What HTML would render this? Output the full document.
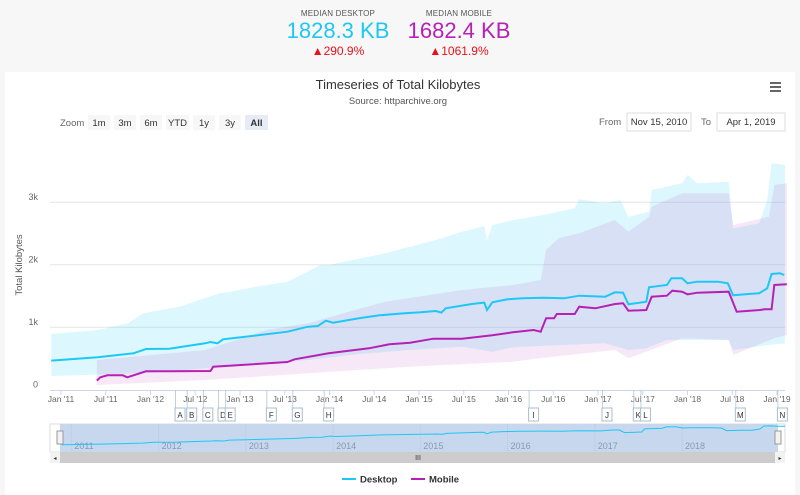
<!DOCTYPE html>
<html><head><meta charset="utf-8"><style>
body{margin:0;width:800px;height:495px;background:#f7f7f7;font-family:"Liberation Sans",sans-serif;overflow:hidden;position:relative}
.stat{position:absolute;text-align:center;width:130px}
.lbl{font-size:8px;color:#555;letter-spacing:.2px}
.val{font-size:22px;line-height:26px}
.chg{font-size:12px;color:#e8101a}
#card{position:absolute;left:5px;top:72px;width:790px;height:423px;background:#fff}
svg text{font-family:"Liberation Sans",sans-serif}
</style></head><body>
<div class="stat" style="left:273px;top:9px">
<div class="lbl">MEDIAN DESKTOP</div><div class="val" style="color:#1ec8f5">1828.3 KB</div><div class="chg">▲290.9%</div></div>
<div class="stat" style="left:394px;top:9px">
<div class="lbl">MEDIAN MOBILE</div><div class="val" style="color:#b521b5">1682.4 KB</div><div class="chg">▲1061.9%</div></div>
<div id="card"></div>
<svg id="chart" width="800" height="495" style="position:absolute;left:0;top:0">
<text x="398" y="89" font-size="13" text-anchor="middle" fill="#333">Timeseries of Total Kilobytes</text>
<text x="398" y="104" font-size="9.5" text-anchor="middle" fill="#555">Source: httparchive.org</text>
<g fill="#666"><rect x="770" y="82" width="11" height="2"/><rect x="770" y="86" width="11" height="2"/><rect x="770" y="90" width="11" height="2"/></g>
<text x="60" y="126" font-size="9.5" fill="#666">Zoom</text>
<g id="zoombtns"></g>
<text x="599" y="125" font-size="9.5" fill="#666">From</text>
<rect x="627" y="113" width="64" height="18" fill="#fff" stroke="#ddd"/>
<text x="659" y="125" font-size="9.5" fill="#333" text-anchor="middle">Nov 15, 2010</text>
<text x="701" y="125" font-size="9.5" fill="#666">To</text>
<rect x="717" y="113" width="68" height="18" fill="#fff" stroke="#ddd"/>
<text x="751" y="125" font-size="9.5" fill="#333" text-anchor="middle">Apr 1, 2019</text>
<text transform="translate(22,265) rotate(-90)" font-size="9.5" fill="#555" text-anchor="middle">Total Kilobytes</text>
<g id="plot"></g>
</svg>
<script>
const yTicks=[0,1000,2000,3000];
const yTickLabels=["0","1k","2k","3k"];
const xTickYears=[2011,2011.5,2012,2012.5,2013,2013.5,2014,2014.5,2015,2015.5,2016,2016.5,2017,2017.5,2018,2018.5,2019];
const xTickLabels=["Jan '11","Jul '11","Jan '12","Jul '12","Jan '13","Jul '13","Jan '14","Jul '14","Jan '15","Jul '15","Jan '16","Jul '16","Jan '17","Jul '17","Jan '18","Jul '18","Jan '19"];
const navYears=[2011,2012,2013,2014,2015,2016,2017,2018];
const desktopYears=[2010.89,2011.41,2011.81,2011.95,2012.21,2012.61,2012.67,2012.75,2012.81,2013.01,2013.53,2013.76,2013.87,2013.96,2014.04,2014.33,2014.56,2014.84,2015.02,2015.19,2015.25,2015.30,2015.59,2015.73,2015.76,2015.82,2015.99,2016.16,2016.39,2016.62,2016.79,2017.08,2017.19,2017.28,2017.34,2017.54,2017.57,2017.77,2017.82,2017.94,2018.0,2018.11,2018.34,2018.45,2018.51,2018.68,2018.80,2018.89,2018.94,2019.03,2019.08];
const desktopMedian=[465,518,582,651,656,742,763,742,806,838,928,1008,1019,1104,1072,1142,1190,1222,1238,1259,1233,1302,1371,1393,1275,1398,1446,1462,1472,1462,1504,1488,1558,1552,1366,1408,1638,1675,1782,1782,1702,1728,1728,1702,1510,1531,1542,1622,1851,1862,1835];
const mobileYears=[2011.40,2011.44,2011.52,2011.69,2011.74,2011.81,2011.95,2012.21,2012.67,2012.70,2013.01,2013.53,2013.61,2013.99,2014.44,2014.67,2014.90,2015.16,2015.48,2015.82,2016.05,2016.28,2016.36,2016.42,2016.51,2016.54,2016.74,2016.79,2016.97,2017.19,2017.28,2017.34,2017.54,2017.60,2017.77,2017.83,2017.94,2018.0,2018.11,2018.46,2018.55,2018.81,2018.86,2018.94,2018.97,2019.11];
const mobileMedian=[145,198,230,230,198,230,294,294,299,368,395,443,486,582,662,726,752,816,816,870,918,955,928,1142,1142,1211,1211,1328,1302,1371,1382,1264,1275,1488,1504,1584,1568,1526,1552,1568,1248,1275,1286,1286,1675,1686];
const dUpYears=[2010.89,2011.41,2011.75,2011.92,2012.32,2012.78,2012.90,2013.18,2013.53,2013.90,2013.99,2014.62,2015.19,2015.48,2015.73,2015.76,2015.82,2016.05,2016.39,2016.74,2016.79,2017.08,2017.25,2017.34,2017.57,2017.60,2017.94,2018.0,2018.11,2018.46,2018.51,2018.80,2018.89,2018.94,2019.09];
const desktopUpper=[891,955,1062,1222,1328,1545,1568,1648,1728,1995,1995,2182,2395,2528,2619,2395,2635,2715,2795,2902,3046,2982,3035,2768,2848,3195,3302,3435,3302,3328,2582,2662,3035,3622,3595];
const dLoYears=[2010.89,2011.41,2012.04,2012.61,2013.18,2013.76,2014.33,2014.90,2015.48,2015.82,2016.05,2016.62,2017.08,2017.34,2017.54,2017.77,2018.46,2018.51,2018.91,2019.09];
const desktopLower=[219,241,273,342,395,475,571,635,688,608,678,715,742,635,662,795,795,635,715,742];
const mUpYears=[2011.40,2012.61,2013.30,2013.76,2014.62,2015.48,2016.05,2016.36,2016.42,2016.56,2016.79,2017.19,2017.34,2017.57,2017.60,2017.94,2018.46,2018.51,2018.91,2018.97,2019.11];
const mobileUpper=[475,635,955,1062,1408,1595,1675,1755,2235,2422,2502,2715,2528,2768,2928,3142,3142,2635,2768,3275,3302];
const mLoYears=[2011.40,2012.61,2013.76,2014.90,2016.05,2016.34,2017.19,2017.34,2017.94,2018.46,2018.51,2018.97,2019.11];
const mobileLower=[75,155,262,368,448,502,635,502,822,795,555,822,875];
const flagLabels=["A","B","C","D","E","F","G","H","I","J","K","L","M","N"];
const flagYears=[2012.28,2012.41,2012.59,2012.76,2012.84,2013.30,2013.59,2013.94,2016.23,2017.05,2017.40,2017.48,2018.54,2019.01];
const zoomLabels=["1m","3m","6m","YTD","1y","3y","All"];

const NS="http://www.w3.org/2000/svg";
const X=y=>61+(y-2011)*89.5;
const Y=v=>389.7-v*0.0625;
const NX=y=>60+(y-2010.87)/(2019.1-2010.87)*718;
const NY=v=>451-v*0.0135;
const plot=document.getElementById('plot');
function mk(tag,attrs,parent){const e=document.createElementNS(NS,tag);for(const k in attrs)e.setAttribute(k,attrs[k]);(parent||plot).appendChild(e);return e;}
function line(xs,vs,fx,fy){return xs.map((x,i)=>(i?'L':'M')+fx(x).toFixed(1)+','+fy(vs[i]).toFixed(1)).join('');}
function band(ux,uv,lx,lv){let p=line(ux,uv,X,Y);for(let i=lx.length-1;i>=0;i--)p+='L'+X(lx[i]).toFixed(1)+','+Y(lv[i]).toFixed(1);return p+'Z';}

const zb=document.getElementById('zoombtns');
let bx=88;
zoomLabels.forEach((l,i)=>{const w=l==='YTD'?23:(l==='All'?23:22);
 const r=mk('rect',{x:bx,y:115,width:w,height:15,fill:l==='All'?'#e6ebf5':'#f7f7f7'},zb);
 
 
 const t=mk('text',{x:bx+w/2,y:126,'font-size':9.5,'text-anchor':'middle',fill:'#333','font-weight':l==='All'?'bold':'normal'},zb);t.textContent=l;bx+=w+4;});

yTicks.forEach((v,i)=>{
 if(v>0){const g=mk('line',{x1:50,x2:785,y1:Y(v),y2:Y(v),stroke:'#e6e6e6'});
 
 }
 const t=mk('text',{x:38,y:Y(v)-2,'font-size':9,fill:'#666','text-anchor':'end'});t.textContent=yTickLabels[i];
 
 
});
const du=mk('path',{d:band(dUpYears,desktopUpper,dLoYears,desktopLower),fill:'#1ec8f5','fill-opacity':0.15});


const mu=mk('path',{d:band(mUpYears,mobileUpper,mLoYears,mobileLower),fill:'#b521b5','fill-opacity':0.1});


const dl=mk('path',{d:line(desktopYears,desktopMedian,X,Y),fill:'none',stroke:'#1ec8f5','stroke-width':2});


const ml=mk('path',{d:line(mobileYears,mobileMedian,X,Y),fill:'none',stroke:'#b521b5','stroke-width':2});


mk('line',{x1:50,x2:785,y1:390.5,y2:390.5,stroke:'#ccd6eb'});
xTickYears.forEach((y,i)=>{
 mk('line',{x1:X(y),x2:X(y),y1:390,y2:395,stroke:'#ccd6eb'});
 const t=mk('text',{x:X(y),y:402,'font-size':8.5,fill:'#666','text-anchor':'middle'});t.textContent=xTickLabels[i];
 
 
});
flagLabels.forEach((l,i)=>{const x=X(flagYears[i]);
 mk('line',{x1:x,x2:x,y1:390,y2:408,stroke:'#b0c4d8','stroke-width':0.8});
 const r=mk('rect',{x:x-0.5,y:408,width:10,height:13,fill:'#fff',stroke:'#a8bfd0'});
 
 
 const t=mk('text',{x:x+4.5,y:418,'font-size':8,fill:'#333','text-anchor':'middle'});t.textContent=l;});
mk('rect',{x:50,y:424,width:735,height:28,fill:'#fff',stroke:'#ddd'});
const sel=mk('rect',{x:60,y:424,width:718,height:28,fill:'#c7d7ee'});


navYears.forEach(y=>{mk('line',{x1:NX(y),x2:NX(y),y1:424,y2:452,stroke:'#b8c8de','stroke-dasharray':'1,1'});
 const t=mk('text',{x:NX(y)+3,y:449,'font-size':9,fill:'#8a9ab0'});t.textContent=String(y);});
const nl=mk('path',{d:line(desktopYears,desktopMedian,NX,NY)+'L785,'+NY(1835),fill:'none',stroke:'#1ec8f5','stroke-width':1});


[60,778].forEach((x,i)=>{const h=mk('rect',{x:x-3,y:431,width:6,height:13,fill:'#f2f2f2',stroke:'#999'});
 
 });
const sb=mk('rect',{x:50,y:452,width:735,height:11,fill:'#f2f2f2'});


const th=mk('rect',{x:60,y:452,width:715,height:11,fill:'#cccccc'});


mk('text',{x:418,y:460,'font-size':7,fill:'#333','text-anchor':'middle'}).textContent='III';
mk('text',{x:55,y:460,'font-size':6,fill:'#333','text-anchor':'middle'}).textContent='◂';
mk('text',{x:780,y:460,'font-size':6,fill:'#333','text-anchor':'middle'}).textContent='▸';
[['Desktop','#1ec8f5',342],['Mobile','#b521b5',411]].forEach(([n,c,x])=>{
 const g=mk('g',{});
 
 
 mk('line',{x1:x,x2:x+14,y1:479,y2:479,stroke:c,'stroke-width':2},g);
 const t=mk('text',{x:x+18,y:482.5,'font-size':9.5,'font-weight':'bold',fill:'#333'},g);t.textContent=n;});
</script>
</body></html>
